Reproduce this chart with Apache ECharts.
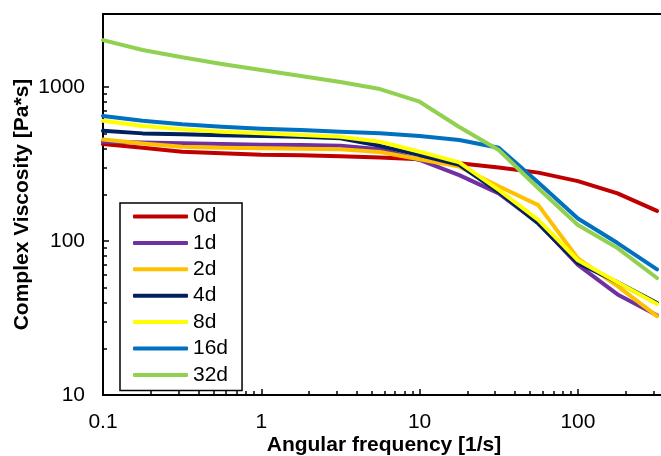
<!DOCTYPE html>
<html>
<head>
<meta charset="utf-8">
<script src="https://cdn.jsdelivr.net/npm/echarts@6/dist/echarts.min.js"></script>
<style>
  html, body { margin: 0; padding: 0; background: #fff; }
  #chart { width: 661px; height: 456px; }
</style>
</head>
<body>
<div id="chart"></div>
<script>
// Angular frequency sweep points [1/s]
const freq = [0.1, 0.178, 0.316, 0.562, 1, 1.78, 3.16, 5.62, 10, 17.8, 31.6, 56.2, 100, 178, 316];

// Complex viscosity [Pa*s] per storage time
const eta0d  = [426, 404, 380, 371, 363, 360, 355, 348, 340, 320, 300, 278, 245, 204, 157];
const eta1d  = [441, 436, 432, 426, 422, 420, 416, 395, 336, 268, 204, 131, 70, 45, 33];
const eta2d  = [457, 430, 410, 404, 400, 398, 394, 378, 340, 304, 227, 171, 77, 51, 32.5];
const eta4d  = [520, 500, 493, 486, 481, 476, 464, 415, 361, 312, 208, 130, 72, 54, 39.5];
const eta8d  = [604, 558, 531, 513, 501, 488, 476, 441, 380, 324, 215, 137, 75, 54, 39];
const eta16d = [649, 604, 573, 552, 536, 526, 513, 501, 481, 453, 403, 240, 140, 97, 65.5];
const eta32d = [2018, 1738, 1560, 1409, 1288, 1178, 1078, 970, 803, 550, 390, 220, 127, 90, 57.5];

const seriesNames  = ['0d', '1d', '2d', '4d', '8d', '16d', '32d'];
const seriesValues = [eta0d, eta1d, eta2d, eta4d, eta8d, eta16d, eta32d];
const seriesColors = ['#C00000', '#7030A0', '#FFC000', '#002060', '#FFFF00', '#0070C0', '#92D050'];

// Axis ticks
const xMajor = [0.1, 1, 10, 100];
const yMajor = [10, 100, 1000];
const xMinor = [0.2, 0.3, 0.4, 0.5, 0.6, 0.7, 0.8, 0.9, 2, 3, 4, 5, 6, 7, 8, 9,
                20, 30, 40, 50, 60, 70, 80, 90, 200, 300];
const yMinor = [20, 30, 40, 50, 60, 70, 80, 90, 200, 300, 400, 500, 600, 700, 800, 900, 2000];

const X_MIN = 0.1, X_MAX = 355;
const Y_MIN = 10, Y_MAX = 2980;

const font = '"Liberation Sans", Arial, Helvetica, sans-serif';

const chart = echarts.init(document.getElementById('chart'), null, { renderer: 'canvas' });

const majorFmt = (list) => (v) => {
  for (const m of list) if (Math.abs(v - m) / m < 1e-6) return String(m);
  return '';
};

const option = {
  animation: false,
  backgroundColor: '#fff',
  grid: {
    left: 103, top: 14, width: 562, height: 381,
    outerBoundsMode: 'none', containLabel: false,
    show: true, borderColor: '#000', borderWidth: 2, backgroundColor: 'transparent'
  },
  legend: {
    orient: 'vertical',
    left: 120, top: 203,
    padding: [3, 14, 5, 13],
    icon: 'roundRect',
    itemWidth: 55, itemHeight: 4, itemGap: 5.4,
    borderColor: '#000', borderWidth: 1.5, borderRadius: 0,
    backgroundColor: '#fff',
    textStyle: { fontFamily: font, fontSize: 21, color: '#000', lineHeight: 21 },
    data: seriesNames.map(n => ({ name: n }))
  },
  xAxis: [{
    type: 'log', logBase: 10, min: X_MIN, max: X_MAX,
    name: 'Angular frequency [1/s]', nameLocation: 'middle', nameGap: 40, nameMoveOverlap: false,
    nameTextStyle: { fontFamily: font, fontSize: 21, fontWeight: 'bold', color: '#000' },
    axisLine: { show: true, onZero: false, lineStyle: { color: '#000', width: 2 } },
    axisTick: { show: true, inside: true, length: 6, customValues: xMajor, lineStyle: { color: '#000', width: 1.5 } },
    axisLabel: { customValues: xMajor, margin: 17, fontFamily: font, fontSize: 21, color: '#000', formatter: majorFmt(xMajor) },
    splitLine: { show: false }, minorTick: { show: false }
  }, {
    type: 'log', logBase: 10, min: X_MIN, max: X_MAX, position: 'bottom',
    axisLine: { show: false },
    axisTick: { show: true, inside: true, length: 4, customValues: xMinor, lineStyle: { color: '#000', width: 1.5 } },
    axisLabel: { show: false }, splitLine: { show: false }
  }],
  yAxis: [{
    type: 'log', logBase: 10, min: Y_MIN, max: Y_MAX,
    name: 'Complex Viscosity [Pa*s]', nameLocation: 'middle', nameGap: 70, nameMoveOverlap: false,
    nameTextStyle: { fontFamily: font, fontSize: 21, fontWeight: 'bold', color: '#000' },
    axisLine: { show: true, onZero: false, lineStyle: { color: '#000', width: 2 } },
    axisTick: { show: true, inside: true, length: 6, customValues: yMajor, lineStyle: { color: '#000', width: 1.5 } },
    axisLabel: { customValues: yMajor, margin: 18, fontFamily: font, fontSize: 21, color: '#000', formatter: majorFmt(yMajor) },
    splitLine: { show: false }, minorTick: { show: false }
  }, {
    type: 'log', logBase: 10, min: Y_MIN, max: Y_MAX, position: 'left',
    axisLine: { show: false },
    axisTick: { show: true, inside: true, length: 4, customValues: yMinor, lineStyle: { color: '#000', width: 1.5 } },
    axisLabel: { show: false }, splitLine: { show: false }
  }],
  series: seriesNames.map((name, i) => ({
    name: name,
    type: 'line',
    xAxisIndex: 0, yAxisIndex: 0,
    showSymbol: false, symbol: 'none',
    lineStyle: { color: seriesColors[i], width: 4, cap: 'round', join: 'round' },
    itemStyle: { color: seriesColors[i] },
    data: freq.map((f, k) => [f, seriesValues[i][k]])
  }))
};

chart.setOption(option);
</script>
</body>
</html>
